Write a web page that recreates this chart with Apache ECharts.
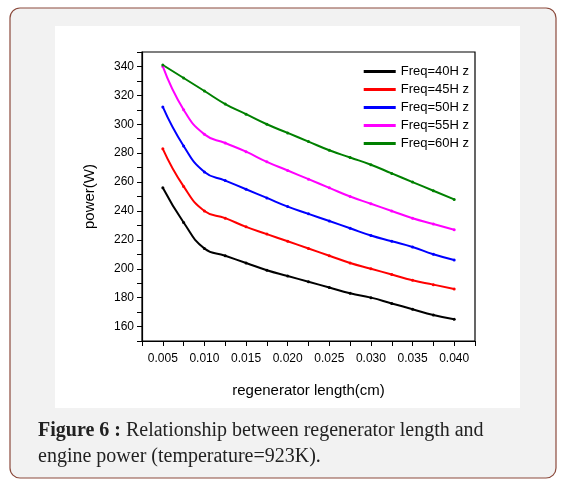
<!DOCTYPE html><html><head><meta charset="utf-8">
<script src="https://cdn.jsdelivr.net/npm/echarts@6/dist/echarts.min.js"></script>
<style>html,body{margin:0;padding:0;background:#fff}#c{width:566px;height:486px}</style></head><body><div id="c"></div>
<script>
const xs=[0.005,0.0075,0.01,0.0125,0.015,0.0175,0.02,0.0225,0.025,0.0275,0.03,0.0325,0.035,0.0375,0.04];
const names=['Freq=40H z','Freq=45H z','Freq=50H z','Freq=55H z','Freq=60H z'];
const colors=['#000000','#ff0000','#0000ff','#ff00ff','#008000'];
const f40=[256,232,214,209,204,199,195,191,187,183,180,176,172,168,165];
const f45=[283,257,240,235,229,224,219,214,209,204,200,196,192,189,186];
const f50=[312,285,267,261,255,249,243,238,233,228,223,219,215,210,206];
const f55=[340,310,293,287,281,274,268,262,256,250,245,240,235,231,227];
const f60=[341,332,323,314,307,300,294,288,282,277,272,266,260,254,248];
const all=[f40,f45,f50,f55,f60];
const ch=echarts.init(document.getElementById('c'));
const F='Liberation Sans, Arial, sans-serif';
ch.setOption({
animation:false,
graphic:[
{type:'rect',shape:{x:10,y:8,width:546,height:470,r:10},style:{fill:'#f2f2f2',stroke:'#8b4a3c',lineWidth:1.2},z:-10},
{type:'rect',shape:{x:55,y:26,width:465,height:382},style:{fill:'#ffffff'},z:-9},
{type:'text',left:38,top:418,style:{text:'{b|Figure 6 :} Relationship between regenerator length and\nengine power (temperature=923K).',rich:{b:{fontWeight:'bold',fontFamily:'Liberation Serif, serif',fontSize:20,fill:'#222'}},fontFamily:'Liberation Serif, serif',fontSize:20,lineHeight:26,fill:'#222'}}
],
grid:{left:142,right:91,top:52,bottom:145,show:true,borderColor:'#000',borderWidth:1.2},
legend:{right:92,top:60,orient:'vertical',itemGap:5,itemWidth:32,itemHeight:3,textStyle:{fontFamily:F,fontSize:13,color:'#000'},data:names,icon:'rect'},
xAxis:{type:'value',min:0.0025,max:0.0425,interval:0.0025,name:'regenerator length(cm)',nameLocation:'middle',nameGap:42,
 nameTextStyle:{fontFamily:F,fontSize:15,color:'#000'},
 axisLine:{show:true,lineStyle:{color:'#000',width:1.2}},axisTick:{show:true,inside:false,length:5,lineStyle:{color:'#000'}},splitLine:{show:false},
 axisLabel:{fontFamily:F,fontSize:12,color:'#000',margin:12,formatter:v=>{const k=Math.round(v/0.0025);return k%2===0&&k>=2&&k<=16?v.toFixed(3):'';}}},
yAxis:{type:'value',min:150,max:350,interval:10,name:'power(W)',nameLocation:'middle',nameGap:45,
 nameTextStyle:{fontFamily:F,fontSize:15,color:'#000'},
 axisLine:{show:true,lineStyle:{color:'#000',width:1.2}},axisTick:{show:true,length:5,lineStyle:{color:'#000'}},splitLine:{show:false},
 axisLabel:{fontFamily:F,fontSize:12,color:'#000',formatter:v=>(v%20===0&&v>=160&&v<=340)?String(v):''}},
series:all.map((d,i)=>({name:names[i],type:'line',smooth:true,symbol:'circle',symbolSize:3,showSymbol:true,
 itemStyle:{color:colors[i]},lineStyle:{width:2,color:colors[i]},data:xs.map((x,j)=>[x,d[j]])}))
});
</script></body></html>
